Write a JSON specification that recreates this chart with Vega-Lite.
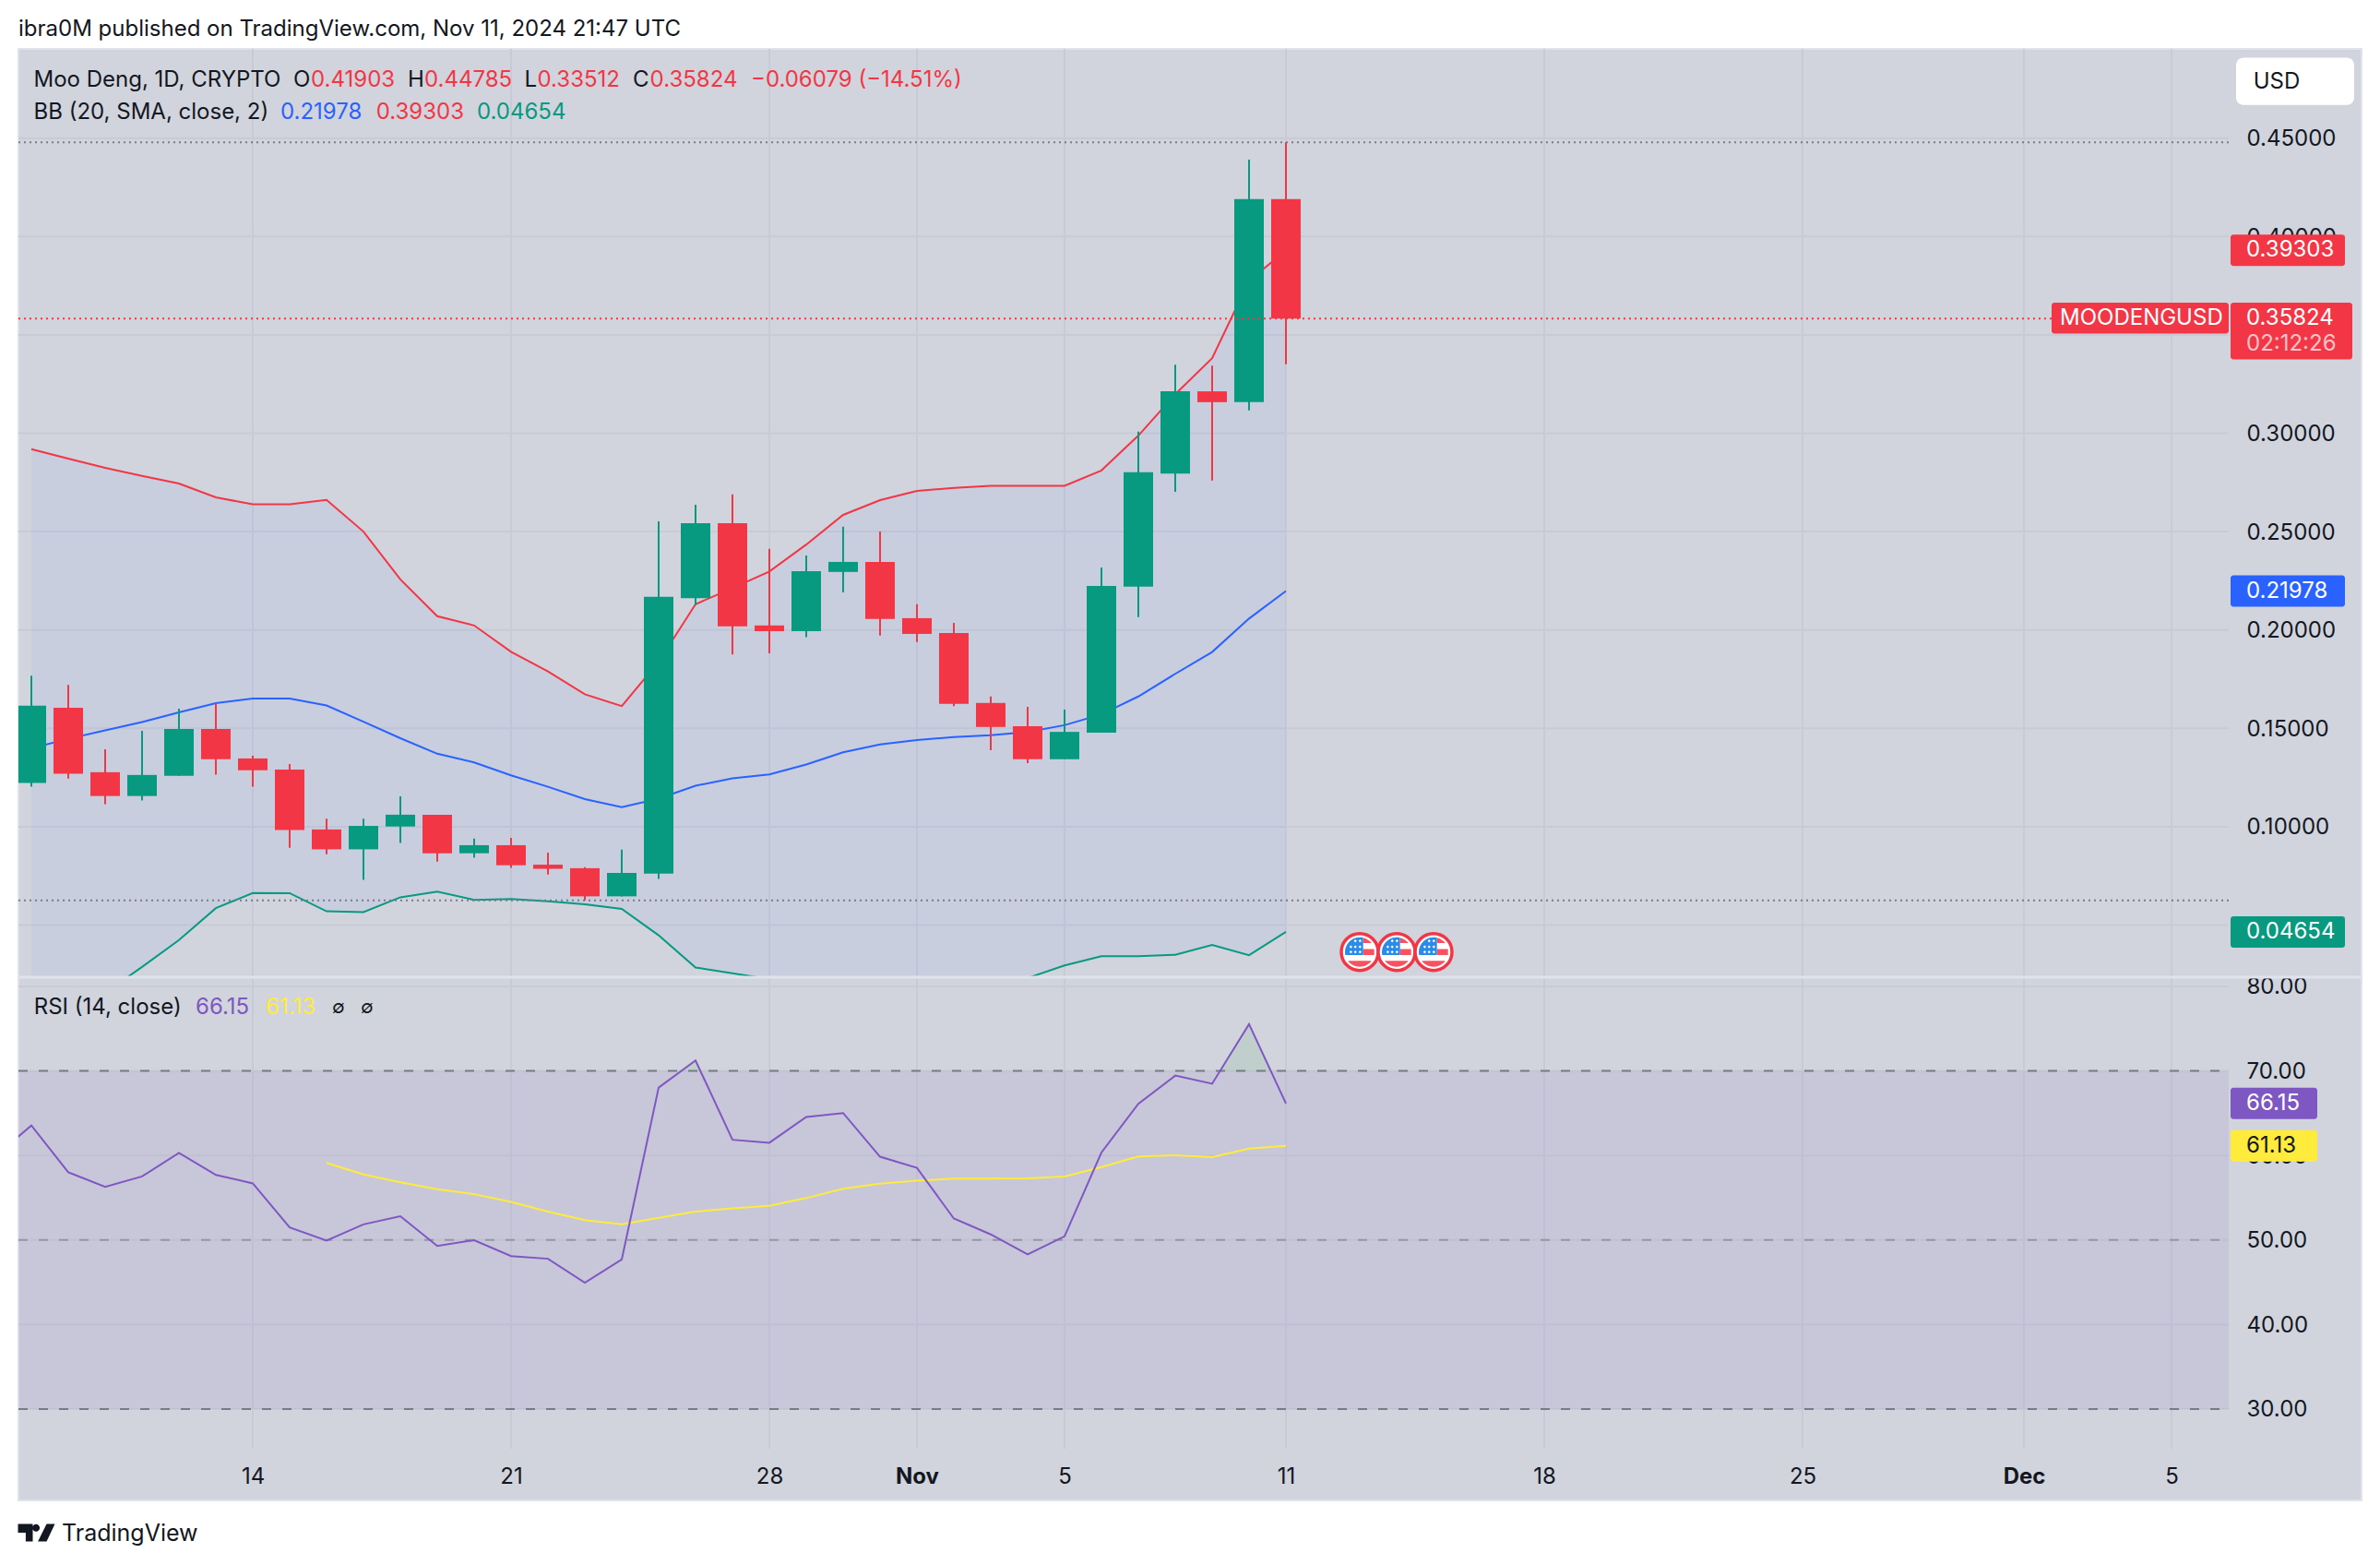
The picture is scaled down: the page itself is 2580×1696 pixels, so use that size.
{"$schema":"https://vega.github.io/schema/vega-lite/v6.json","background":"white","padding":{"left":17,"top":0,"right":23,"bottom":0},"spacing":0,"bounds":"flush","config":{"font":"Inter","view":{"stroke":null},"concat":{"spacing":0},"text":{"font":"Inter","fontSize":24,"align":"left","baseline":"middle","color":"#131722"},"axis":{"labelFont":"Inter","labelFontSize":24,"labelColor":"#131722"}},
"datasets":{
"daily":[
{"date":"2024-10-07T00:00:00Z","rsi":59.8},
{"date":"2024-10-08T00:00:00Z","open":0.1222,"high":0.1768,"low":0.1203,"close":0.1615,"upper":0.2919,"basis":0.1398,"lower":-0.0123,"rsi":63.55},
{"date":"2024-10-09T00:00:00Z","open":0.1605,"high":0.1721,"low":0.1245,"close":0.1269,"upper":0.2871,"basis":0.1447,"lower":0.0023,"rsi":58.02},
{"date":"2024-10-10T00:00:00Z","open":0.1277,"high":0.1393,"low":0.1114,"close":0.1156,"upper":0.2824,"basis":0.149,"lower":0.0156,"rsi":56.29},
{"date":"2024-10-11T00:00:00Z","open":0.1156,"high":0.1487,"low":0.1133,"close":0.1263,"upper":0.2783,"basis":0.1532,"lower":0.0287,"rsi":57.52},
{"date":"2024-10-12T00:00:00Z","open":0.1259,"high":0.16,"low":0.1259,"close":0.1497,"upper":0.2744,"basis":0.1581,"lower":0.0424,"rsi":60.31},
{"date":"2024-10-13T00:00:00Z","open":0.1497,"high":0.1628,"low":0.1264,"close":0.1343,"upper":0.2674,"basis":0.1628,"lower":0.0586,"rsi":57.7},
{"date":"2024-10-14T00:00:00Z","open":0.1347,"high":0.1361,"low":0.1203,"close":0.1287,"upper":0.2639,"basis":0.1652,"lower":0.0663,"rsi":56.7},
{"date":"2024-10-15T00:00:00Z","open":0.129,"high":0.1319,"low":0.0893,"close":0.0983,"upper":0.2639,"basis":0.1652,"lower":0.0662,"rsi":51.49},
{"date":"2024-10-16T00:00:00Z","open":0.0986,"high":0.1041,"low":0.086,"close":0.0885,"upper":0.2661,"basis":0.1616,"lower":0.057,"rsi":49.93,"rsiMA":59.12},
{"date":"2024-10-17T00:00:00Z","open":0.0885,"high":0.1041,"low":0.073,"close":0.1004,"upper":0.25,"basis":0.1534,"lower":0.0566,"rsi":51.85,"rsiMA":57.75},
{"date":"2024-10-18T00:00:00Z","open":0.1001,"high":0.1154,"low":0.0917,"close":0.1061,"upper":0.2257,"basis":0.145,"lower":0.0641,"rsi":52.81,"rsiMA":56.83},
{"date":"2024-10-19T00:00:00Z","open":0.1061,"high":0.1061,"low":0.0823,"close":0.0865,"upper":0.207,"basis":0.1371,"lower":0.067,"rsi":49.29,"rsiMA":56.01},
{"date":"2024-10-20T00:00:00Z","open":0.0865,"high":0.094,"low":0.0843,"close":0.0906,"upper":0.2023,"basis":0.1327,"lower":0.0628,"rsi":49.98,"rsiMA":55.42},
{"date":"2024-10-21T00:00:00Z","open":0.0906,"high":0.0943,"low":0.0791,"close":0.0804,"upper":0.1889,"basis":0.1261,"lower":0.0633,"rsi":48.1,"rsiMA":54.5},
{"date":"2024-10-22T00:00:00Z","open":0.0807,"high":0.0868,"low":0.0757,"close":0.0786,"upper":0.1789,"basis":0.1203,"lower":0.0621,"rsi":47.78,"rsiMA":53.36},
{"date":"2024-10-23T00:00:00Z","open":0.0789,"high":0.0794,"low":0.0625,"close":0.0646,"upper":0.1673,"basis":0.114,"lower":0.0605,"rsi":44.95,"rsiMA":52.35},
{"date":"2024-10-24T00:00:00Z","open":0.0646,"high":0.0883,"low":0.0646,"close":0.0765,"upper":0.1613,"basis":0.1099,"lower":0.0582,"rsi":47.69,"rsiMA":51.85},
{"date":"2024-10-25T00:00:00Z","open":0.0762,"high":0.2552,"low":0.0734,"close":0.2169,"upper":0.1838,"basis":0.1143,"lower":0.0448,"rsi":68.03,"rsiMA":52.63},
{"date":"2024-10-26T00:00:00Z","open":0.2162,"high":0.2636,"low":0.2126,"close":0.2543,"upper":0.2131,"basis":0.1208,"lower":0.0284,"rsi":71.23,"rsiMA":53.36},
{"date":"2024-10-27T00:00:00Z","open":0.2543,"high":0.2689,"low":0.1876,"close":0.2018,"upper":0.2213,"basis":0.1246,"lower":0.0255,"rsi":61.86,"rsiMA":53.73},
{"date":"2024-10-28T00:00:00Z","open":0.2023,"high":0.2412,"low":0.1881,"close":0.1994,"upper":0.2297,"basis":0.1266,"lower":0.0225,"rsi":61.5,"rsiMA":54.05},
{"date":"2024-10-29T00:00:00Z","open":0.1994,"high":0.2379,"low":0.1963,"close":0.2299,"upper":0.2434,"basis":0.1316,"lower":0.0198,"rsi":64.56,"rsiMA":54.96},
{"date":"2024-10-30T00:00:00Z","open":0.2295,"high":0.2525,"low":0.2191,"close":0.2346,"upper":0.2585,"basis":0.1378,"lower":0.0171,"rsi":65.02,"rsiMA":56.06},
{"date":"2024-10-31T00:00:00Z","open":0.2346,"high":0.2501,"low":0.1972,"close":0.2056,"upper":0.266,"basis":0.1418,"lower":0.0176,"rsi":59.85,"rsiMA":56.65},
{"date":"2024-11-01T00:00:00Z","open":0.206,"high":0.2131,"low":0.1939,"close":0.198,"upper":0.2707,"basis":0.144,"lower":0.0173,"rsi":58.53,"rsiMA":57.02},
{"date":"2024-11-02T00:00:00Z","open":0.1985,"high":0.2036,"low":0.1613,"close":0.1624,"upper":0.2722,"basis":0.1456,"lower":0.019,"rsi":52.54,"rsiMA":57.25},
{"date":"2024-11-03T00:00:00Z","open":0.1629,"high":0.1662,"low":0.1389,"close":0.1507,"upper":0.2733,"basis":0.1465,"lower":0.0197,"rsi":50.66,"rsiMA":57.27},
{"date":"2024-11-04T00:00:00Z","open":0.1511,"high":0.1609,"low":0.1323,"close":0.1343,"upper":0.2733,"basis":0.1482,"lower":0.0231,"rsi":48.29,"rsiMA":57.29},
{"date":"2024-11-05T00:00:00Z","open":0.1343,"high":0.1595,"low":0.1343,"close":0.1482,"upper":0.2733,"basis":0.1516,"lower":0.0295,"rsi":50.43,"rsiMA":57.52},
{"date":"2024-11-06T00:00:00Z","open":0.1478,"high":0.2317,"low":0.1478,"close":0.2224,"upper":0.2811,"basis":0.1571,"lower":0.0342,"rsi":60.35,"rsiMA":58.62},
{"date":"2024-11-07T00:00:00Z","open":0.222,"high":0.3008,"low":0.2065,"close":0.2802,"upper":0.2988,"basis":0.1662,"lower":0.0342,"rsi":66.11,"rsiMA":59.89},
{"date":"2024-11-08T00:00:00Z","open":0.2795,"high":0.3348,"low":0.2702,"close":0.3213,"upper":0.3198,"basis":0.1777,"lower":0.0349,"rsi":69.45,"rsiMA":60.03},
{"date":"2024-11-09T00:00:00Z","open":0.3213,"high":0.3344,"low":0.276,"close":0.3158,"upper":0.3381,"basis":0.1888,"lower":0.0399,"rsi":68.49,"rsiMA":59.81},
{"date":"2024-11-10T00:00:00Z","open":0.3158,"high":0.4391,"low":0.3116,"close":0.419,"upper":0.3774,"basis":0.2058,"lower":0.0347,"rsi":75.53,"rsiMA":60.81},
{"date":"2024-11-11T00:00:00Z","open":0.41903,"high":0.44785,"low":0.33512,"close":0.35824,"upper":0.39303,"basis":0.21978,"lower":0.04654,"rsi":66.15,"rsiMA":61.13}
],
"ticks":[{"date":"2024-10-14T00:00:00Z"},{"date":"2024-10-21T00:00:00Z"},{"date":"2024-10-28T00:00:00Z"},{"date":"2024-11-01T00:00:00Z"},{"date":"2024-11-05T00:00:00Z"},{"date":"2024-11-11T00:00:00Z"},{"date":"2024-11-18T00:00:00Z"},{"date":"2024-11-25T00:00:00Z"},{"date":"2024-12-01T00:00:00Z"},{"date":"2024-12-05T00:00:00Z"}],
"priceGrid":[{"price":0.45},{"price":0.4},{"price":0.35},{"price":0.3},{"price":0.25},{"price":0.2},{"price":0.15},{"price":0.1},{"price":0.05}],
"rsiGrid":[{"rsi":80},{"rsi":70},{"rsi":60},{"rsi":50},{"rsi":40},{"rsi":30}],
"hiLo":[{"level":"high","price":0.44785},{"level":"low","price":0.0626}],
"events":[{"date":"2024-11-13T00:00:00Z","price":0.0363},{"date":"2024-11-14T00:00:00Z","price":0.0363},{"date":"2024-11-15T00:00:00Z","price":0.0363}],
"bbTags":[{"series":"upper","price":0.39303},{"series":"basis","price":0.21978},{"series":"lower","price":0.04654}],
"overbought":[{"date":"2024-10-25T14:47:00Z","rsi":70},{"date":"2024-10-26T00:00:00Z","rsi":71.23},{"date":"2024-10-26T03:09:00Z","rsi":70},{"date":"2024-11-09T05:09:00Z","rsi":70},{"date":"2024-11-10T00:00:00Z","rsi":75.53},{"date":"2024-11-10T14:09:00Z","rsi":70}]
},
"vconcat":[
{"width":2540,"height":53,"layer":[{"data":{"values":[{}]},"mark":{"type":"text","x":0,"y":32,"text":"ibra0M published on TradingView.com, Nov 11, 2024 21:47 UTC"}}]},
{"width":2540,"height":1006,"view":{"fill":"#D1D4DC","stroke":"#E0E3EB","strokeWidth":2},"resolve":{"axis":{"x":"independent","y":"independent"}},"layer":[
{"data":{"name":"ticks"},"mark":{"type":"rule","color":"#C8CBD5","strokeWidth":2},"encoding":{"x":{"field":"date","type":"temporal","axis":null,"scale":{"type":"utc","padding":0,"domain":[{"year":2024,"month":"oct","date":7,"hours":15,"minutes":36,"utc":true},{"year":2024,"month":"dec","date":10,"hours":3,"minutes":36,"utc":true}]}}}},
{"data":{"name":"priceGrid"},"mark":{"type":"rule","color":"#C8CBD5","strokeWidth":2},"encoding":{"x":{"value":0},"x2":{"value":2396},"y":{"field":"price","type":"quantitative","scale":{"domain":[0.0235,0.49536],"nice":false,"zero":false},"axis":{"orient":"right","offset":-144,"title":null,"grid":false,"ticks":false,"domain":false,"labelPadding":19,"labelOffset":1,"labelAlign":"left","labelBaseline":"middle","format":".5f","values":[0.45,0.4,0.35,0.3,0.25,0.2,0.15,0.1,0.05],"labelOverlap":false}}}},
{"data":{"name":"daily"},"transform":[{"filter":"isValid(datum.upper)"}],"mark":{"type":"area","color":"#2962FF","opacity":0.05,"clip":true},"encoding":{"x":{"field":"date","type":"temporal","axis":null,"scale":{"type":"utc","padding":0,"domain":[{"year":2024,"month":"oct","date":7,"hours":15,"minutes":36,"utc":true},{"year":2024,"month":"dec","date":10,"hours":3,"minutes":36,"utc":true}]}},"y":{"field":"upper","type":"quantitative","axis":null,"scale":{"domain":[0.0235,0.49536],"nice":false,"zero":false}},"y2":{"field":"lower"}}},
{"data":{"name":"daily"},"transform":[{"filter":"isValid(datum.upper)"}],"mark":{"type":"line","color":"#F23645","strokeWidth":2,"clip":true},"encoding":{"x":{"field":"date","type":"temporal","axis":null,"scale":{"type":"utc","padding":0,"domain":[{"year":2024,"month":"oct","date":7,"hours":15,"minutes":36,"utc":true},{"year":2024,"month":"dec","date":10,"hours":3,"minutes":36,"utc":true}]}},"y":{"field":"upper","type":"quantitative","axis":null,"scale":{"domain":[0.0235,0.49536],"nice":false,"zero":false}}}},
{"data":{"name":"daily"},"transform":[{"filter":"isValid(datum.upper)"}],"mark":{"type":"line","color":"#2962FF","strokeWidth":2,"clip":true},"encoding":{"x":{"field":"date","type":"temporal","axis":null,"scale":{"type":"utc","padding":0,"domain":[{"year":2024,"month":"oct","date":7,"hours":15,"minutes":36,"utc":true},{"year":2024,"month":"dec","date":10,"hours":3,"minutes":36,"utc":true}]}},"y":{"field":"basis","type":"quantitative","axis":null,"scale":{"domain":[0.0235,0.49536],"nice":false,"zero":false}}}},
{"data":{"name":"daily"},"transform":[{"filter":"isValid(datum.upper)"}],"mark":{"type":"line","color":"#089981","strokeWidth":2,"clip":true},"encoding":{"x":{"field":"date","type":"temporal","axis":null,"scale":{"type":"utc","padding":0,"domain":[{"year":2024,"month":"oct","date":7,"hours":15,"minutes":36,"utc":true},{"year":2024,"month":"dec","date":10,"hours":3,"minutes":36,"utc":true}]}},"y":{"field":"lower","type":"quantitative","axis":null,"scale":{"domain":[0.0235,0.49536],"nice":false,"zero":false}}}},
{"data":{"name":"hiLo"},"mark":{"type":"rule","color":"#787B86","strokeWidth":2,"strokeDash":[2,4]},"encoding":{"x":{"value":0},"x2":{"value":2396},"y":{"field":"price","type":"quantitative","axis":null,"scale":{"domain":[0.0235,0.49536],"nice":false,"zero":false}}}},
{"data":{"name":"daily"},"transform":[{"filter":"isValid(datum.open)"}],"mark":{"type":"rule","strokeWidth":2,"clip":true},"encoding":{"x":{"field":"date","type":"temporal","axis":null,"scale":{"type":"utc","padding":0,"domain":[{"year":2024,"month":"oct","date":7,"hours":15,"minutes":36,"utc":true},{"year":2024,"month":"dec","date":10,"hours":3,"minutes":36,"utc":true}]}},"y":{"field":"low","type":"quantitative","axis":null,"scale":{"domain":[0.0235,0.49536],"nice":false,"zero":false}},"y2":{"field":"high"},"color":{"condition":{"test":"datum.close>=datum.open","value":"#089981"},"value":"#F23645"}}},
{"data":{"name":"daily"},"transform":[{"filter":"isValid(datum.open)"}],"mark":{"type":"bar","size":32,"orient":"vertical","clip":true},"encoding":{"x":{"field":"date","type":"temporal","axis":null,"scale":{"type":"utc","padding":0,"domain":[{"year":2024,"month":"oct","date":7,"hours":15,"minutes":36,"utc":true},{"year":2024,"month":"dec","date":10,"hours":3,"minutes":36,"utc":true}]}},"y":{"field":"open","type":"quantitative","axis":null,"scale":{"domain":[0.0235,0.49536],"nice":false,"zero":false}},"y2":{"field":"close"},"color":{"condition":{"test":"datum.close>=datum.open","value":"#089981"},"value":"#F23645"}}},
{"data":{"values":[{"price":0.35824}]},"mark":{"type":"rule","color":"#F23645","strokeWidth":2,"strokeDash":[2,4]},"encoding":{"x":{"value":0},"x2":{"value":2204},"y":{"field":"price","type":"quantitative","axis":null,"scale":{"domain":[0.0235,0.49536],"nice":false,"zero":false}}}},
{"data":{"name":"events"},"mark":{"type":"point","shape":"circle","filled":true,"fill":"white","stroke":"#F23645","strokeWidth":3.5,"size":1600,"opacity":1},"encoding":{"x":{"field":"date","type":"temporal","axis":null,"scale":{"type":"utc","padding":0,"domain":[{"year":2024,"month":"oct","date":7,"hours":15,"minutes":36,"utc":true},{"year":2024,"month":"dec","date":10,"hours":3,"minutes":36,"utc":true}]}},"y":{"field":"price","type":"quantitative","axis":null,"scale":{"domain":[0.0235,0.49536],"nice":false,"zero":false}}}},
{"data":{"name":"events"},"mark":{"type":"point","shape":"M.23 -.97A1 1 0 0 1 .8 -.6L.23 -.6ZM.23 -.2L.98 -.2L.98 .2L.23 .2ZM-.8 .6L.8 .6A1 1 0 0 1 -.8 .6Z","filled":true,"fill":"#F7525F","strokeWidth":0,"size":1024,"opacity":1},"encoding":{"x":{"field":"date","type":"temporal","axis":null,"scale":{"type":"utc","padding":0,"domain":[{"year":2024,"month":"oct","date":7,"hours":15,"minutes":36,"utc":true},{"year":2024,"month":"dec","date":10,"hours":3,"minutes":36,"utc":true}]}},"y":{"field":"price","type":"quantitative","axis":null,"scale":{"domain":[0.0235,0.49536],"nice":false,"zero":false}}}},
{"data":{"name":"events"},"mark":{"type":"point","shape":"M-.98 .2A1 1 0 0 1 .23 -.97L.23 .2Z","filled":true,"fill":"#2A8BE8","strokeWidth":0,"size":1024,"opacity":1},"encoding":{"x":{"field":"date","type":"temporal","axis":null,"scale":{"type":"utc","padding":0,"domain":[{"year":2024,"month":"oct","date":7,"hours":15,"minutes":36,"utc":true},{"year":2024,"month":"dec","date":10,"hours":3,"minutes":36,"utc":true}]}},"y":{"field":"price","type":"quantitative","axis":null,"scale":{"domain":[0.0235,0.49536],"nice":false,"zero":false}}}},
{"data":{"name":"events"},"mark":{"type":"point","shape":"M-.3 -.85l.1 .1l-.1 .1l-.1 -.1zM.02 -.85l.1 .1l-.1 .1l-.1 -.1zM-.6 -.45l.1 .1l-.1 .1l-.1 -.1zM-.3 -.45l.1 .1l-.1 .1l-.1 -.1zM.02 -.45l.1 .1l-.1 .1l-.1 -.1zM-.6 -.1l.1 .1l-.1 .1l-.1 -.1zM-.3 -.1l.1 .1l-.1 .1l-.1 -.1zM.02 -.1l.1 .1l-.1 .1l-.1 -.1z","filled":true,"fill":"white","strokeWidth":0,"size":1024,"opacity":1},"encoding":{"x":{"field":"date","type":"temporal","axis":null,"scale":{"type":"utc","padding":0,"domain":[{"year":2024,"month":"oct","date":7,"hours":15,"minutes":36,"utc":true},{"year":2024,"month":"dec","date":10,"hours":3,"minutes":36,"utc":true}]}},"y":{"field":"price","type":"quantitative","axis":null,"scale":{"domain":[0.0235,0.49536],"nice":false,"zero":false}}}},
{"data":{"name":"bbTags"},"mark":{"type":"rect","height":34,"cornerRadius":3},"encoding":{"x":{"value":2398},"x2":{"value":2522},"y":{"field":"price","type":"quantitative","axis":null,"scale":{"domain":[0.0235,0.49536],"nice":false,"zero":false}},"color":{"field":"series","type":"nominal","legend":null,"scale":{"domain":["upper","basis","lower","RSI","RSI-based MA"],"range":["#F23645","#2962FF","#089981","#7E57C2","#FFEB3B"]}}}},
{"data":{"name":"bbTags"},"mark":{"type":"text","color":"white"},"encoding":{"x":{"value":2415},"y":{"field":"price","type":"quantitative","axis":null,"scale":{"domain":[0.0235,0.49536],"nice":false,"zero":false}},"text":{"field":"price","format":".5f"}}},
{"data":{"values":[{}]},"mark":{"type":"rect","color":"#F23645","cornerRadius":3},"encoding":{"x":{"value":2398},"x2":{"value":2530},"y":{"value":275},"y2":{"value":336.5}}},
{"data":{"values":[{}]},"mark":{"type":"rect","color":"#F23645","cornerRadius":3},"encoding":{"x":{"value":2204},"x2":{"value":2396},"y":{"value":275},"y2":{"value":308.6}}},
{"data":{"values":[{"price":0.35824}]},"mark":{"type":"text","color":"white"},"encoding":{"x":{"value":2415},"y":{"field":"price","type":"quantitative","axis":null,"scale":{"domain":[0.0235,0.49536],"nice":false,"zero":false}},"text":{"field":"price","format":".5f"}}},
{"data":{"values":[{"price":0.35824,"symbol":"MOODENGUSD"}]},"mark":{"type":"text","color":"white"},"encoding":{"x":{"value":2213},"y":{"field":"price","type":"quantitative","axis":null,"scale":{"domain":[0.0235,0.49536],"nice":false,"zero":false}},"text":{"field":"symbol"}}},
{"data":{"values":[{}]},"mark":{"type":"text","x":2415,"y":320,"text":"02:12:26","color":"white","opacity":0.7}},
{"data":{"values":[{}]},"mark":{"type":"rect","color":"white","cornerRadius":8},"encoding":{"x":{"value":2404},"x2":{"value":2532},"y":{"value":9.5},"y2":{"value":60.7}}},
{"data":{"values":[{}]},"mark":{"type":"text","x":2422.7,"y":35.5,"text":"USD"}},
{"data":{"values":[{}]},"mark":{"type":"text","x":16.5,"y":34.2,"text":"Moo Deng, 1D, CRYPTO"}},
{"data":{"values":[{}]},"mark":{"type":"text","x":298,"y":34.2,"text":"O"}},
{"data":{"values":[{}]},"mark":{"type":"text","x":317,"y":34.2,"text":"0.41903","color":"#F23645"}},
{"data":{"values":[{}]},"mark":{"type":"text","x":422,"y":34.2,"text":"H"}},
{"data":{"values":[{}]},"mark":{"type":"text","x":440,"y":34.2,"text":"0.44785","color":"#F23645"}},
{"data":{"values":[{}]},"mark":{"type":"text","x":548.4,"y":34.2,"text":"L"}},
{"data":{"values":[{}]},"mark":{"type":"text","x":562.5,"y":34.2,"text":"0.33512","color":"#F23645"}},
{"data":{"values":[{}]},"mark":{"type":"text","x":666,"y":34.2,"text":"C"}},
{"data":{"values":[{}]},"mark":{"type":"text","x":684.6,"y":34.2,"text":"0.35824","color":"#F23645"}},
{"data":{"values":[{}]},"mark":{"type":"text","x":794,"y":34.2,"text":"−0.06079 (−14.51%)","color":"#F23645"}},
{"data":{"values":[{}]},"mark":{"type":"text","x":16.5,"y":68.5,"text":"BB (20, SMA, close, 2)"}},
{"data":{"values":[{}]},"mark":{"type":"text","x":284,"y":68.5,"text":"0.21978","color":"#2962FF"}},
{"data":{"values":[{}]},"mark":{"type":"text","x":387.7,"y":68.5,"text":"0.39303","color":"#F23645"}},
{"data":{"values":[{}]},"mark":{"type":"text","x":497,"y":68.5,"text":"0.04654","color":"#089981"}}
]},
{"width":2540,"height":567,"view":{"fill":"#D1D4DC","stroke":"#E0E3EB","strokeWidth":2},"resolve":{"axis":{"x":"independent","y":"independent"}},"layer":[
{"data":{"name":"ticks"},"mark":{"type":"rule","color":"#C8CBD5","strokeWidth":2},"encoding":{"x":{"field":"date","type":"temporal","scale":{"type":"utc","domain":[{"year":2024,"month":"oct","date":7,"hours":15,"minutes":36,"utc":true},{"year":2024,"month":"dec","date":10,"hours":3,"minutes":36,"utc":true}]},"axis":{"orient":"bottom","offset":-26,"title":null,"grid":false,"ticks":false,"domain":false,"labelPadding":0,"labelBaseline":"middle","labelAlign":"center","labelOverlap":false,"values":[{"year":2024,"month":"oct","date":14,"utc":true},{"year":2024,"month":"oct","date":21,"utc":true},{"year":2024,"month":"oct","date":28,"utc":true},{"year":2024,"month":"nov","date":1,"utc":true},{"year":2024,"month":"nov","date":5,"utc":true},{"year":2024,"month":"nov","date":11,"utc":true},{"year":2024,"month":"nov","date":18,"utc":true},{"year":2024,"month":"nov","date":25,"utc":true},{"year":2024,"month":"dec","date":1,"utc":true},{"year":2024,"month":"dec","date":5,"utc":true}],"labelExpr":"utcdate(datum.value)==1?utcFormat(datum.value,'%b'):utcFormat(datum.value,'%-d')","labelFontWeight":{"expr":"utcdate(datum.value)==1?700:400"}}},"y":{"value":0},"y2":{"value":511}}},
{"data":{"name":"rsiGrid"},"mark":{"type":"rule","color":"#C8CBD5","strokeWidth":2},"encoding":{"x":{"value":0},"x2":{"value":2396},"y":{"field":"rsi","type":"quantitative","scale":{"domain":[19.19,81.09],"nice":false,"zero":false},"axis":{"orient":"right","offset":-144,"title":null,"grid":false,"ticks":false,"domain":false,"labelPadding":19,"labelOffset":1,"labelAlign":"left","labelBaseline":"middle","format":".2f","values":[80,70,60,50,40,30],"labelOverlap":false}}}},
{"data":{"values":[{}]},"mark":{"type":"rect","color":"#7E57C2","opacity":0.1},"encoding":{"x":{"value":0},"x2":{"value":2396},"y":{"datum":70,"type":"quantitative","axis":null,"scale":{"domain":[19.19,81.09],"nice":false,"zero":false}},"y2":{"datum":30}}},
{"data":{"values":[{"rsi":70},{"rsi":30}]},"mark":{"type":"rule","color":"#787B86","strokeWidth":2,"strokeDash":[10,12]},"encoding":{"x":{"value":0},"x2":{"value":2396},"y":{"field":"rsi","type":"quantitative","axis":null,"scale":{"domain":[19.19,81.09],"nice":false,"zero":false}}}},
{"data":{"values":[{"rsi":50}]},"mark":{"type":"rule","color":"#787B86","strokeWidth":2,"opacity":0.6,"strokeDash":[10,12]},"encoding":{"x":{"value":0},"x2":{"value":2396},"y":{"field":"rsi","type":"quantitative","axis":null,"scale":{"domain":[19.19,81.09],"nice":false,"zero":false}}}},
{"data":{"name":"overbought"},"mark":{"type":"area","color":"#4CAF50","opacity":0.12,"clip":true},"encoding":{"x":{"field":"date","type":"temporal","axis":null,"scale":{"type":"utc","domain":[{"year":2024,"month":"oct","date":7,"hours":15,"minutes":36,"utc":true},{"year":2024,"month":"dec","date":10,"hours":3,"minutes":36,"utc":true}]}},"y":{"field":"rsi","type":"quantitative","axis":null,"scale":{"domain":[19.19,81.09],"nice":false,"zero":false}},"y2":{"datum":70}}},
{"data":{"name":"daily"},"transform":[{"filter":"isValid(datum.rsiMA)"}],"mark":{"type":"line","color":"#FFEB3B","strokeWidth":2,"clip":true},"encoding":{"x":{"field":"date","type":"temporal","axis":null,"scale":{"type":"utc","domain":[{"year":2024,"month":"oct","date":7,"hours":15,"minutes":36,"utc":true},{"year":2024,"month":"dec","date":10,"hours":3,"minutes":36,"utc":true}]}},"y":{"field":"rsiMA","type":"quantitative","axis":null,"scale":{"domain":[19.19,81.09],"nice":false,"zero":false}}}},
{"data":{"name":"daily"},"mark":{"type":"line","color":"#7E57C2","strokeWidth":2,"clip":true},"encoding":{"x":{"field":"date","type":"temporal","axis":null,"scale":{"type":"utc","domain":[{"year":2024,"month":"oct","date":7,"hours":15,"minutes":36,"utc":true},{"year":2024,"month":"dec","date":10,"hours":3,"minutes":36,"utc":true}]}},"y":{"field":"rsi","type":"quantitative","axis":null,"scale":{"domain":[19.19,81.09],"nice":false,"zero":false}}}},
{"data":{"values":[{"series":"RSI","rsi":66.15},{"series":"RSI-based MA","rsi":61.13}]},"mark":{"type":"rect","height":34,"cornerRadius":3},"encoding":{"x":{"value":2398},"x2":{"value":2492},"y":{"field":"rsi","type":"quantitative","axis":null,"scale":{"domain":[19.19,81.09],"nice":false,"zero":false}},"color":{"field":"series","type":"nominal","legend":null,"scale":{"domain":["upper","basis","lower","RSI","RSI-based MA"],"range":["#F23645","#2962FF","#089981","#7E57C2","#FFEB3B"]}}}},
{"data":{"values":[{"series":"RSI","rsi":66.15},{"series":"RSI-based MA","rsi":61.13}]},"mark":{"type":"text"},"encoding":{"x":{"value":2415},"y":{"field":"rsi","type":"quantitative","axis":null,"scale":{"domain":[19.19,81.09],"nice":false,"zero":false}},"text":{"field":"rsi","format":".2f"},"color":{"condition":{"test":"datum.series==='RSI'","value":"white"},"value":"#131722"}}},
{"data":{"values":[{}]},"mark":{"type":"rule","color":"#E0E3EB","strokeWidth":3},"encoding":{"x":{"value":0},"x2":{"value":2540},"y":{"value":0},"y2":{"value":0}}},
{"data":{"values":[{}]},"mark":{"type":"text","x":16.7,"y":33,"text":"RSI (14, close)"}},
{"data":{"values":[{}]},"mark":{"type":"text","x":192,"y":33,"text":"66.15","color":"#7E57C2"}},
{"data":{"values":[{}]},"mark":{"type":"text","x":268,"y":33,"text":"61.13","color":"#FFEB3B"}},
{"data":{"values":[{}]},"mark":{"type":"text","x":340,"y":33,"text":"∅","fontSize":20}},
{"data":{"values":[{}]},"mark":{"type":"text","x":371,"y":33,"text":"∅","fontSize":20}}
]},
{"width":2540,"height":70,"layer":[
{"data":{"values":[{}]},"mark":{"type":"point","x":19.5,"y":35,"filled":true,"opacity":1,"fill":"#131722","strokeWidth":0,"size":1600,"shape":"M-1 -.48L-.2 -.48L-.2 .48L-.58 .48L-.58 0L-1 0ZM.18 -.26A.2 .2 0 1 1 -.22 -.26A.2 .2 0 1 1 .18 -.26ZM.55 -.48L1 -.48L.55 .48L.08 .48Z"},"encoding":{}},
{"data":{"values":[{}]},"mark":{"type":"text","x":47,"y":36,"text":"TradingView","fontSize":25}}
]}
]}
